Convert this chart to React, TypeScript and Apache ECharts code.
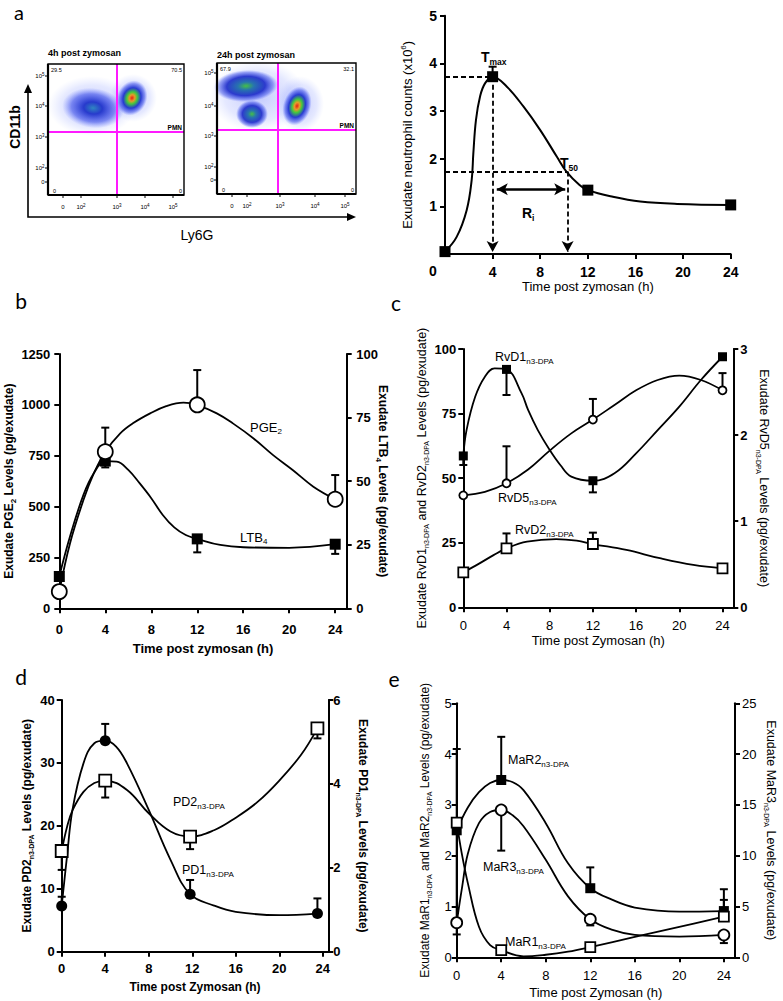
import React, { useEffect, useRef } from 'react';
import * as echarts from 'echarts';

const FONT = '"Liberation Sans", Arial, Helvetica, sans-serif';
const LETTER_FONT = 'Lato, "Open Sans", sans-serif';

// ---------------- Panel a : flow cytometry ----------------
const flowTitles = ['4h post zymosan', '24h post zymosan'];
const flowUpperLeft = ['29.5', '67.9'];
const flowUpperRight = ['70.5', '32.1'];
const flowLowerLeft = ['0', '0'];
const flowLowerRight = ['0', '0'];
const flowGate = 'PMN';
const flowYTickLabels = ['10{p|5}', '10{p|4}', '10{p|3}', '10{p|2}', '0'];
const flowXTickLabels = ['0', '10{p|2}', '10{p|3}', '10{p|4}', '10{p|5}'];

// ---------------- Panel a : neutrophil kinetics ----------------
const hourTicks = [0, 4, 8, 12, 16, 20, 24];
const hoursA = [0, 4, 12, 24];
const neutrophils = [0.05, 3.72, 1.34, 1.03];
const neutrophilErr = [[0, 0], [0, 0.21], [0, 0], [0.06, 0.06]];
const neutrophilCurve = [
  [0, 0.05], [0.98, 0.36], [1.82, 0.92], [2.24, 1.55], [2.38, 2.11], [2.6, 2.81], [2.94, 3.3],
  [3.36, 3.58], [4, 3.72], [5.2, 3.51], [6.6, 3.09], [8, 2.6], [9.4, 2.04], [10.2, 1.73],
  [11.3, 1.45], [12, 1.34], [14.1, 1.2], [16.4, 1.1], [19.5, 1.05], [24, 1.03],
];
const tmax = [4, 3.72];
const t50 = [10.3, 1.73];
const riSpan = [4.35, 10.1];
const riLevel = 1.36;

// ---------------- Panel b ----------------
const hoursB = [0, 4, 12, 24];
const pge2 = [82, 770, 1000, 536];
const pge2Err = [[0, 0], [0, 118], [0, 171], [0, 119]];
const ltb4 = [12.5, 57.9, 27.3, 25.2];
const ltb4Err = [[0, 0], [2.5, 0], [5.3, 0], [3.8, 0]];
const pge2Curve = [
  [0, 82], [0.93, 319], [2.1, 532], [3, 663], [4, 770], [5.3, 860], [6.4, 909], [7.9, 958],
  [9.3, 994], [10.8, 1011], [12, 999], [13.7, 958], [15.1, 909], [16.9, 835], [18.6, 753],
  [20.3, 680], [22.1, 598], [24, 536],
];
const ltb4Curve = [
  [0, 12.5], [0.93, 28.2], [2.1, 44.6], [3, 53.1], [4, 57.9], [5, 57.7], [6, 54.4], [7, 49.1],
  [8, 43.3], [9, 36.7], [10, 31.8], [11, 28.8], [12, 27.3], [14, 24.9], [16, 24.0], [20, 23.8], [24, 25.2],
];

// ---------------- Panel c ----------------
const hoursC = [0, 4, 12, 24];
const rvd1 = [58.6, 92.1, 49.0, 97.0];
const rvd1Err = [[3.5, 0], [9.9, 0], [4.5, 0], [0, 0]];
const rvd5 = [1.3, 1.44, 2.18, 2.52];
const rvd5Err = [[0, 0], [0, 0.43], [0, 0.24], [0, 0.2]];
const rvd2 = [13.5, 22.8, 24.5, 15.1];
const rvd2Err = [[0, 0], [0, 5.8], [0, 4.4], [0, 0]];
const rvd1Curve = [
  [0, 58.6], [0.3, 68.6], [1.1, 81.5], [2, 89.3], [2.9, 92.5], [4, 92.1], [5.4, 82.8], [6, 76.4],
  [6.9, 68.6], [8, 60.9], [9, 55], [10, 50.6], [12, 49.0], [14, 51.9], [16, 59.6], [18, 68.6],
  [20, 77.7], [22, 88], [24, 97],
];
const rvd5Curve = [
  [0, 1.3], [2, 1.34], [4, 1.44], [6, 1.6], [8, 1.82], [10, 2.02], [12, 2.18], [14, 2.35],
  [16, 2.52], [18, 2.64], [20, 2.69], [22, 2.64], [24, 2.52],
];
const rvd2Curve = [
  [0, 13.5], [1.5, 17.0], [2.8, 20.2], [4, 22.8], [5.9, 25.4], [8.6, 26.4], [10.5, 25.8], [12, 24.5],
  [15.1, 22.2], [18.2, 19.0], [21.3, 16.4], [24, 15.1],
];

// ---------------- Panel d ----------------
const hoursD = [0, 4, 11.8, 23.5];
const pd2 = [16.0, 27.2, 18.3, 35.5];
const pd2Err = [[3.0, 0], [2.7, 0], [2.0, 0], [1.6, 0]];
const pd1 = [1.09, 5.03, 1.37, 0.91];
const pd1Err = [[0, 0.22], [0, 0.4], [0, 0.34], [0, 0.36]];
const pd2Curve = [
  [0, 16.0], [0.5, 19.9], [1, 22.5], [2, 25.4], [3, 26.8], [4, 27.2], [6, 25.7], [8, 22.0],
  [10, 19.1], [11.8, 18.3], [14, 19.3], [16, 21.3], [18, 23.8], [20, 27.2], [22, 31.3], [23.5, 35.5],
];
const pd1Curve = [
  [0, 1.09], [0.5, 2.3], [1, 3.4], [2, 4.49], [3, 4.97], [4, 5.03], [5, 4.89], [6, 4.49],
  [8, 3.38], [10, 2.19], [11.8, 1.37], [14, 1.1], [16, 0.95], [20, 0.87], [23.5, 0.91],
];

// ---------------- Panel e ----------------
const hoursE = [0, 4, 12, 24];
const mar2 = [2.5, 3.49, 1.36, 0.91];
const mar2Err = [[0, 1.6], [0, 0.85], [0, 0.41], [0, 0.43]];
const mar3 = [3.41, 14.5, 3.74, 2.2];
const mar3Err = [[0, 0], [4.0, 0], [0.6, 0], [0.8, 0]];
const mar1 = [2.65, 0.14, 0.2, 0.8];
const mar1Err = [[2.2, 0], [0, 0], [0, 0], [0, 0.33]];
const mar2Curve = [
  [0, 2.5], [1, 2.95], [2, 3.25], [3, 3.43], [4, 3.49], [5, 3.45], [6, 3.29], [8, 2.64],
  [10, 1.85], [12, 1.36], [14, 1.13], [16, 0.98], [20, 0.9], [24, 0.91],
];
const mar3Curve = [
  [0, 3.41], [0.5, 7.0], [1, 10.2], [2, 13.2], [3, 14.3], [4, 14.5], [5, 14.0], [6, 12.9],
  [8, 9.6], [10, 6.0], [12, 3.74], [14, 2.69], [16, 2.2], [20, 2.03], [24, 2.2],
];
const mar1Curve = [
  [0, 2.65], [0.45, 2.05], [1, 1.46], [2, 0.6], [3, 0.24], [4, 0.14], [6, 0.02], [8, 0.05],
  [10, 0.11], [12, 0.2], [16, 0.4], [20, 0.6], [24, 0.8],
];

// ---------------- helpers ----------------
const subStyle = (size: number, weight = 'normal') => ({
  fontSize: size, lineHeight: size, verticalAlign: 'bottom', fontFamily: FONT, fontWeight: weight, color: '#000', fill: '#000',
});
const supStyle = (size: number, weight = 'normal') => ({
  fontSize: size, lineHeight: size, verticalAlign: 'top', fontFamily: FONT, fontWeight: weight, color: '#000', fill: '#000',
});

const axisLineStyle = { show: true, onZero: false, lineStyle: { color: '#000', width: 2 } };

function mkX(gi: number, max: number, o: any) {
  return {
    type: 'value', gridIndex: gi, min: 0, max, interval: 4,
    axisLine: axisLineStyle,
    axisTick: { show: true, length: 5, inside: false, lineStyle: { color: '#000', width: 2 }, customValues: o.ticks || hourTicks },
    axisLabel: {
      customValues: o.labels || hourTicks, margin: o.margin, fontSize: o.size, fontWeight: o.weight,
      color: '#000', fontFamily: FONT, formatter: (v: number) => (v > 24 ? '' : String(v)),
    },
    splitLine: { show: false },
    name: o.name, nameLocation: 'middle', nameGap: o.gap, nameMoveOverlap: false,
    nameTextStyle: { fontSize: o.nameSize, fontWeight: o.nameWeight, color: '#000', fontFamily: FONT },
  };
}

function mkY(gi: number, pos: string, max: number, interval: number, o: any) {
  const base = o.nameSize;
  return {
    type: 'value', gridIndex: gi, position: pos, min: 0, max, interval,
    axisLine: axisLineStyle,
    axisTick: { show: true, length: 5, inside: false, lineStyle: { color: '#000', width: 2 } },
    axisLabel: {
      margin: o.margin, fontSize: o.size, fontWeight: o.weight, color: '#000', fontFamily: FONT,
      formatter: (v: number) => (o.hideZero && v === 0 ? '' : String(v)),
    },
    splitLine: { show: false },
    name: o.name, nameLocation: 'middle', nameGap: o.gap, nameRotate: pos === 'left' ? 90 : -90, nameMoveOverlap: false,
    nameTextStyle: {
      fontSize: base, lineHeight: base + 4, fontWeight: o.nameWeight, color: '#000', fontFamily: FONT,
      rich: { s: subStyle(o.subSize || 8, o.nameWeight), p: supStyle(8, o.nameWeight) },
    },
  };
}

function curve(xi: number, yi: number, pts: number[][], extra: any = {}) {
  return {
    type: 'line', xAxisIndex: xi, yAxisIndex: yi, data: pts, smooth: 0.4,
    symbol: 'none', lineStyle: { color: '#000', width: 1.8 }, z: 2, silent: true, ...extra,
  };
}

function markers(xi: number, yi: number, xs: number[], ys: number[], symbol: string, size: number, filled: boolean) {
  return {
    type: 'scatter', xAxisIndex: xi, yAxisIndex: yi, data: xs.map((x, i) => [x, ys[i]]),
    symbol, symbolSize: size, silent: true, z: 5, clip: false,
    itemStyle: filled ? { color: '#000', borderColor: '#000', borderWidth: 0, opacity: 1 } : { color: '#fff', borderColor: '#000', borderWidth: 1.8, opacity: 1 },
  };
}

function errorBars(xi: number, yi: number, xs: number[], ys: number[], errs: number[][], cap = 4) {
  return {
    type: 'custom', coordinateSystem: 'cartesian2d', xAxisIndex: xi, yAxisIndex: yi, z: 3, silent: true, clip: false,
    data: xs.map((x, i) => [x, ys[i], errs[i][0], errs[i][1]]),
    encode: { x: 0, y: 1 },
    renderItem: (_p: any, api: any) => {
      const x = api.value(0), y = api.value(1), dn = api.value(2), up = api.value(3);
      const children: any[] = [];
      if (dn > 0 || up > 0) {
        const lo = api.coord([x, y - dn]);
        const hi = api.coord([x, y + up]);
        const st = { stroke: '#000', lineWidth: 2 };
        children.push({ type: 'line', shape: { x1: lo[0], y1: lo[1], x2: hi[0], y2: hi[1] }, style: st });
        if (up > 0) children.push({ type: 'line', shape: { x1: hi[0] - cap, y1: hi[1], x2: hi[0] + cap, y2: hi[1] }, style: st });
        if (dn > 0) children.push({ type: 'line', shape: { x1: lo[0] - cap, y1: lo[1], x2: lo[0] + cap, y2: lo[1] }, style: st });
      }
      return { type: 'group', children };
    },
  };
}

function txt(x: number, y: number, text: string, size: number, o: any = {}) {
  return {
    type: 'text', x, y, rotation: o.rot || 0, z: 100, silent: true,
    style: {
      text, fontSize: size, fontFamily: o.family || FONT, fontWeight: o.weight || 'normal', fill: '#000',
      align: o.align || 'left', verticalAlign: o.va || 'middle', lineHeight: o.lh || size + 4,
      rich: o.rich,
    },
  };
}

const labelRich = { s: subStyle(8) };

function grad(kind: string) {
  const stops: any = {
    hot: [
      { offset: 0, color: 'rgba(230,30,20,1)' },
      { offset: 0.18, color: 'rgba(235,150,30,0.95)' },
      { offset: 0.34, color: 'rgba(60,200,50,0.95)' },
      { offset: 0.58, color: 'rgba(25,45,205,0.92)' },
      { offset: 0.82, color: 'rgba(45,65,230,0.5)' },
      { offset: 1, color: 'rgba(90,110,255,0)' },
    ],
    blue: [
      { offset: 0, color: 'rgba(40,130,190,0.95)' },
      { offset: 0.3, color: 'rgba(25,45,200,0.92)' },
      { offset: 0.7, color: 'rgba(40,60,230,0.55)' },
      { offset: 1, color: 'rgba(90,110,255,0)' },
    ],
    bluegreen: [
      { offset: 0, color: 'rgba(60,190,60,0.95)' },
      { offset: 0.25, color: 'rgba(30,110,170,0.95)' },
      { offset: 0.6, color: 'rgba(25,40,200,0.9)' },
      { offset: 0.85, color: 'rgba(45,65,230,0.45)' },
      { offset: 1, color: 'rgba(90,110,255,0)' },
    ],
    halo: [
      { offset: 0, color: 'rgba(80,100,250,0.35)' },
      { offset: 0.7, color: 'rgba(110,130,255,0.18)' },
      { offset: 1, color: 'rgba(140,160,255,0)' },
    ],
  };
  return new echarts.graphic.RadialGradient(0.5, 0.5, 0.5, stops[kind]);
}

function blob(cx: number, cy: number, rx: number, ry: number, rot: number, kind: string) {
  return {
    type: 'ellipse', shape: { cx: 0, cy: 0, rx, ry }, x: cx, y: cy, rotation: rot, z: 10, silent: true,
    style: { fill: grad(kind) },
  };
}

function flowPlot(i: number, bx: number, by: number, w: number, h: number, vx: number, hy: number,
  blobs: any[], yLab: number[], xLab: number[], titleY: number) {
  const els: any[] = [];
  blobs.forEach((b) => els.push(blob(b[0], b[1], b[2], b[3], b[4], b[5])));
  const magenta = { stroke: '#ff1aff', lineWidth: 2 };
  els.push({ type: 'line', z: 20, silent: true, shape: { x1: vx, y1: by, x2: vx, y2: by + h }, style: magenta });
  els.push({ type: 'line', z: 20, silent: true, shape: { x1: bx, y1: hy, x2: bx + w, y2: hy }, style: magenta });
  els.push({ type: 'rect', z: 30, silent: true, shape: { x: bx, y: by, width: w, height: h }, style: { fill: 'none', stroke: '#000', lineWidth: 1.4 } });
  els.push({ type: 'line', z: 30, silent: true, shape: { x1: bx, y1: by + h, x2: bx + w, y2: by + h }, style: { stroke: '#000', lineWidth: 2.2 } });
  els.push({ type: 'line', z: 30, silent: true, shape: { x1: bx, y1: by, x2: bx, y2: by + h }, style: { stroke: '#000', lineWidth: 2.2 } });
  const pRich = { p: supStyle(4.5, 'normal') };
  yLab.forEach((yy, k) => {
    els.push({ type: 'line', z: 30, silent: true, shape: { x1: bx - 3, y1: yy, x2: bx, y2: yy }, style: { stroke: '#000', lineWidth: 1 } });
    els.push(txt(bx - 3.5, yy, flowYTickLabels[k], 6, { align: 'right', rich: pRich, lh: 8 }));
  });
  xLab.forEach((xx, k) => {
    els.push({ type: 'line', z: 30, silent: true, shape: { x1: xx, y1: by + h, x2: xx, y2: by + h + 3 }, style: { stroke: '#000', lineWidth: 1 } });
    els.push(txt(xx, by + h + 12, flowXTickLabels[k], 6, { align: 'center', rich: pRich, lh: 8 }));
  });
  els.push(txt(bx, titleY, flowTitles[i], 9, { weight: 'bold' }));
  els.push(txt(bx + 3, by + 6, flowUpperLeft[i], 5.5));
  els.push(txt(bx + w - 2, by + 6, flowUpperRight[i], 5.5, { align: 'right' }));
  els.push(txt(bx + w - 2, hy - 4.5, flowGate, 6.5, { align: 'right', weight: 'bold' }));
  els.push(txt(bx + 5, by + h - 4, flowLowerLeft[i], 5.5));
  els.push(txt(bx + w - 2, by + h - 4, flowLowerRight[i], 5.5, { align: 'right' }));
  return els;
}

const GRIDS = [
  { left: 445, top: 15.7, width: 285.7, height: 238.3 },
  { left: 59.3, top: 354, width: 287.4, height: 254.3 },
  { left: 463.3, top: 349, width: 270, height: 258.3 },
  { left: 61.7, top: 700, width: 266.6, height: 251.7 },
  { left: 456.7, top: 703.3, width: 278.3, height: 254 },
];

function buildOption() {
  const graphics: any[] = [];
  graphics.push(...flowPlot(0, 48, 64, 136, 131, 117, 132, [
    [92, 106, 44, 30, 0, 'halo'],
    [93, 108, 31, 20, -0.12, 'blue'],
    [133, 98, 24, 24, 0, 'halo'],
    [132, 98, 15, 18, -0.4, 'hot'],
  ], [76, 106, 137, 168, 182], [63, 81, 117, 145, 173], 53));
  graphics.push(...flowPlot(1, 217, 63, 139, 131, 278, 130, [
    [258, 96, 48, 36, 0, 'halo'],
    [246, 86, 32, 16, 0.05, 'bluegreen'],
    [252, 114, 16, 14, 0, 'bluegreen'],
    [300, 104, 24, 28, 0, 'halo'],
    [297, 106, 14, 20, -0.3, 'hot'],
  ], [73, 106, 136, 167, 180], [232, 247, 280, 315, 345], 55));
  graphics.push({ type: 'polyline', z: 30, silent: true, shape: { points: [[28, 90], [28, 217], [350, 217]] }, style: { stroke: '#000', lineWidth: 1.6, fill: 'none' } });
  graphics.push({ type: 'polygon', z: 30, silent: true, shape: { points: [[24, 93], [28, 84], [32, 93]] }, style: { fill: '#000' } });
  graphics.push({ type: 'polygon', z: 30, silent: true, shape: { points: [[347, 213], [356, 217], [347, 221]] }, style: { fill: '#000' } });
  graphics.push(txt(15, 127, 'CD11b', 14, { rot: Math.PI / 2, align: 'center', weight: 'bold' }));
  graphics.push(txt(197, 235, 'Ly6G', 14, { align: 'center' }));

  graphics.push(txt(19, 12, 'a', 20, { family: LETTER_FONT, align: 'center' }));
  graphics.push(txt(21, 300, 'b', 21, { family: LETTER_FONT, align: 'center' }));
  graphics.push(txt(396, 302, 'c', 21, { family: LETTER_FONT, align: 'center' }));
  graphics.push(txt(21, 676, 'd', 21, { family: LETTER_FONT, align: 'center' }));
  graphics.push(txt(394, 678, 'e', 21, { family: LETTER_FONT, align: 'center' }));

  graphics.push(txt(433, 271, '0', 14, { align: 'center', weight: 'bold' }));
  graphics.push(txt(481, 57, 'T{s|max}', 14, { weight: 'bold', rich: { s: subStyle(8.5, 'bold') }, lh: 18 }));
  graphics.push(txt(560, 163, 'T{s|50}', 14, { weight: 'bold', rich: { s: subStyle(8.5, 'bold') }, lh: 18 }));
  graphics.push(txt(522, 213, 'R{s|i}', 14, { weight: 'bold', rich: { s: subStyle(8.5, 'bold') }, lh: 18 }));

  graphics.push(txt(250, 427, 'PGE{s|2}', 13, { rich: labelRich }));
  graphics.push(txt(240, 537, 'LTB{s|4}', 13, { rich: labelRich }));
  graphics.push(txt(495, 357, 'RvD1{s|n3-DPA}', 12.5, { rich: labelRich }));
  graphics.push(txt(498, 498, 'RvD5{s|n3-DPA}', 12.5, { rich: labelRich }));
  graphics.push(txt(515, 530, 'RvD2{s|n3-DPA}', 12.5, { rich: labelRich }));
  graphics.push(txt(173, 802, 'PD2{s|n3-DPA}', 12.5, { rich: labelRich }));
  graphics.push(txt(182, 870, 'PD1{s|n3-DPA}', 12.5, { rich: labelRich }));
  graphics.push(txt(508, 760, 'MaR2{s|n3-DPA}', 12.5, { rich: labelRich }));
  graphics.push(txt(483, 867, 'MaR3{s|n3-DPA}', 12.5, { rich: labelRich }));
  graphics.push(txt(505, 942, 'MaR1{s|n3-DPA}', 12.5, { rich: labelRich }));

  const dashed = {
    silent: true, symbol: ['none', 'arrow'], symbolSize: [9, 11],
    lineStyle: { color: '#000', width: 1.8, type: [5, 3] }, label: { show: false }, emphasis: { disabled: true },
    data: [
      [{ coord: [0, tmax[1]], symbol: 'none' }, { coord: [tmax[0], tmax[1]], symbol: 'none' }],
      [{ coord: [tmax[0], tmax[1]] }, { coord: [tmax[0], 0.04] }],
      [{ coord: [0, t50[1]], symbol: 'none' }, { coord: [t50[0], t50[1]], symbol: 'none' }],
      [{ coord: [t50[0], t50[1]] }, { coord: [t50[0], 0.04] }],
    ],
  };
  const riArrow = {
    silent: true, symbol: ['arrow', 'arrow'], symbolSize: [9, 11],
    lineStyle: { color: '#000', width: 2.6, type: 'solid' }, label: { show: false }, emphasis: { disabled: true },
    data: [[{ coord: [riSpan[0], riLevel] }, { coord: [riSpan[1], riLevel] }]],
  };

  const series: any[] = [
    curve(0, 0, neutrophilCurve, { lineStyle: { color: '#000', width: 2 }, markLine: dashed }),
    { type: 'scatter', xAxisIndex: 0, yAxisIndex: 0, data: [[riSpan[0], riLevel], [riSpan[1], riLevel]], symbol: 'none', silent: true, markLine: riArrow },
    errorBars(0, 0, hoursA, neutrophils, neutrophilErr),
    markers(0, 0, hoursA, neutrophils, 'rect', 11, true),
    curve(1, 1, pge2Curve),
    curve(1, 2, ltb4Curve),
    errorBars(1, 1, hoursB, pge2, pge2Err),
    errorBars(1, 2, hoursB, ltb4, ltb4Err),
    markers(1, 2, hoursB, ltb4, 'rect', 11, true),
    markers(1, 1, hoursB, pge2, 'circle', 15, false),
    curve(2, 3, rvd1Curve),
    curve(2, 4, rvd5Curve),
    curve(2, 3, rvd2Curve),
    errorBars(2, 3, hoursC, rvd1, rvd1Err),
    errorBars(2, 4, hoursC, rvd5, rvd5Err),
    errorBars(2, 3, hoursC, rvd2, rvd2Err),
    markers(2, 3, hoursC, rvd1, 'rect', 9, true),
    markers(2, 4, hoursC, rvd5, 'circle', 8, false),
    markers(2, 3, hoursC, rvd2, 'rect', 10, false),
    curve(3, 5, pd2Curve),
    curve(3, 6, pd1Curve),
    errorBars(3, 5, hoursD, pd2, pd2Err),
    errorBars(3, 6, hoursD, pd1, pd1Err),
    markers(3, 6, hoursD, pd1, 'circle', 11, true),
    markers(3, 5, hoursD, pd2, 'rect', 12, false),
    curve(4, 7, mar2Curve),
    curve(4, 8, mar3Curve),
    curve(4, 7, mar1Curve),
    errorBars(4, 7, hoursE, mar2, mar2Err),
    errorBars(4, 8, hoursE, mar3, mar3Err),
    errorBars(4, 7, hoursE, mar1, mar1Err),
    markers(4, 7, hoursE, mar2, 'rect', 10, true),
    markers(4, 8, hoursE, mar3, 'circle', 11, false),
    markers(4, 7, hoursE, mar1, 'rect', 10, false),
  ];

  return {
    animation: false,
    backgroundColor: '#fff',
    textStyle: { fontFamily: FONT },
    grid: GRIDS.map((g) => ({ ...g, containLabel: false, outerBoundsMode: 'none' })),
    xAxis: [
      mkX(0, 24, { labels: [4, 8, 12, 16, 20, 24], ticks: [4, 8, 12, 16, 20, 24], margin: 11, size: 14, weight: 'bold', name: 'Time post zymosan (h)', gap: 26, nameSize: 13, nameWeight: 'normal' }),
      mkX(1, 25, { margin: 15, size: 13, weight: 'bold', name: 'Time post zymosan (h)', gap: 34, nameSize: 13, nameWeight: 'bold' }),
      mkX(2, 25, { margin: 12, size: 13, weight: 'normal', name: 'Time post Zymosan (h)', gap: 27, nameSize: 13, nameWeight: 'normal' }),
      mkX(3, 24.5, { margin: 10, size: 13, weight: 'bold', name: 'Time post Zymosan (h)', gap: 29, nameSize: 12, nameWeight: 'bold' }),
      mkX(4, 25, { margin: 12, size: 13, weight: 'normal', name: 'Time post Zymosan (h)', gap: 28.5, nameSize: 13, nameWeight: 'normal' }),
    ],
    yAxis: [
      mkY(0, 'left', 5, 1, { margin: 8, size: 14, weight: 'bold', hideZero: true, name: 'Exudate neutrophil counts (x10{p|6})', gap: 29, nameSize: 13, nameWeight: 'normal' }),
      mkY(1, 'left', 1250, 250, { margin: 9, size: 13, weight: 'bold', name: 'Exudate PGE{s|2} Levels (pg/exudate)', gap: 42, nameSize: 12, nameWeight: 'bold' }),
      mkY(1, 'right', 100, 25, { margin: 9.5, size: 13, weight: 'bold', name: 'Exudate LTB{s|4} Levels (pg/exudate)', gap: 28, nameSize: 12, nameWeight: 'bold' }),
      mkY(2, 'left', 100, 25, { margin: 7, size: 13, weight: 'bold', name: 'Exudate RvD1{s|n3-DPA} and RvD2{s|n3-DPA} Levels (pg/exudate)', gap: 33, nameSize: 12.5, subSize: 7, nameWeight: 'normal' }),
      mkY(2, 'right', 3, 1, { margin: 7, size: 13, weight: 'bold', name: 'Exudate RvD5{s|n3-DPA} Levels (pg/exudate)', gap: 22, nameSize: 12.5, subSize: 7, nameWeight: 'normal' }),
      mkY(3, 'left', 40, 10, { margin: 7, size: 13, weight: 'bold', name: 'Exudate PD2{s|n3-DPA} Levels (pg/exudate)', gap: 27, nameSize: 12, subSize: 7, nameWeight: 'bold' }),
      mkY(3, 'right', 6, 2, { margin: 5, size: 13, weight: 'bold', name: 'Exudate PD1{s|n3-DPA} Levels (pg/exudate)', gap: 27, nameSize: 12, subSize: 7, nameWeight: 'bold' }),
      mkY(4, 'left', 5, 1, { margin: 5, size: 13, weight: 'normal', name: 'Exudate MaR1{s|n3-DPA} and MaR2{s|n3-DPA} Levels (pg/exudate)', gap: 24, nameSize: 12, subSize: 7, nameWeight: 'normal' }),
      mkY(4, 'right', 25, 5, { margin: 7, size: 13, weight: 'normal', name: 'Exudate MaR3{s|n3-DPA} Levels (pg/exudate)', gap: 28, nameSize: 12.5, subSize: 7, nameWeight: 'normal' }),
    ],
    series,
    graphic: { elements: graphics },
  };
}

export default function App() {
  const ref = useRef<HTMLDivElement>(null);
  useEffect(() => {
    if (!ref.current) return;
    const chart = echarts.init(ref.current, null, { renderer: 'svg' });
    chart.setOption(buildOption() as any);
    return () => chart.dispose();
  }, []);
  return (
    <div
      ref={ref}
      style={{ position: 'absolute', left: 0, top: 0, width: 783, height: 1001, background: '#fff' }}
    />
  );
}
